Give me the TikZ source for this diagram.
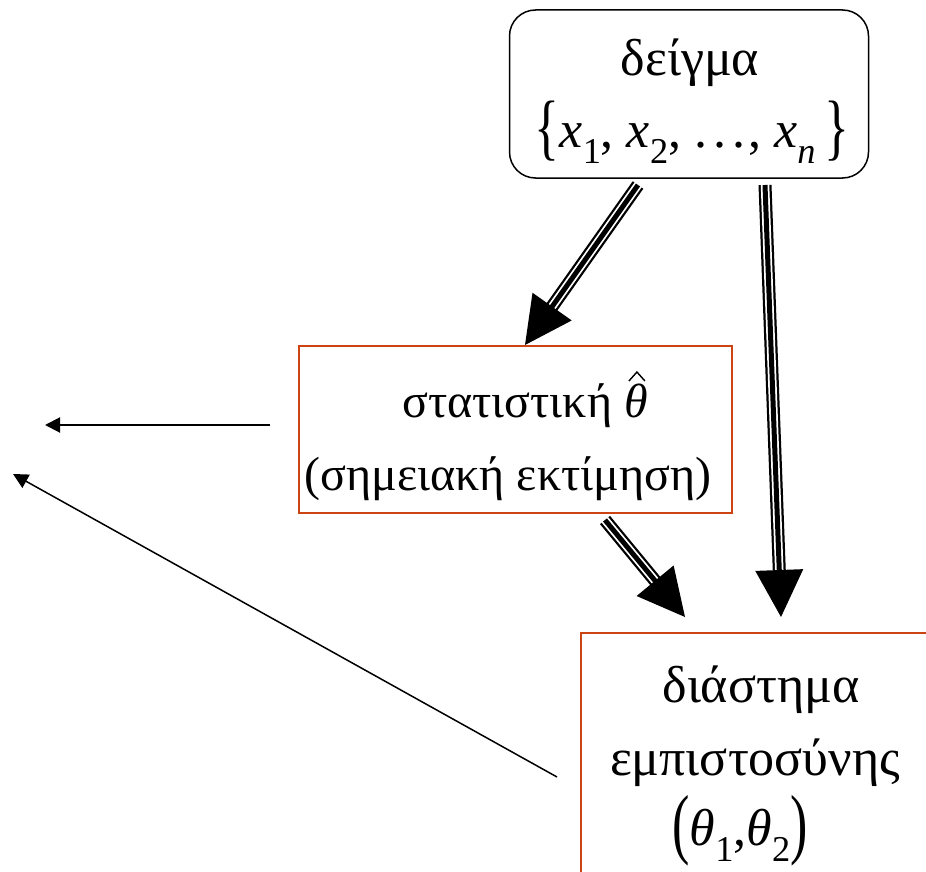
\documentclass[tikz,border=0pt]{standalone}
\usepackage{fontspec}
\setmainfont{Liberation Serif}
\usetikzlibrary{arrows.meta,calc}
\definecolor{boxred}{RGB}{204,68,20}
\newcommand\lsub[1]{\raisebox{-0.32em}{\scalebox{0.7}{#1}}}
\newcommand\triplearrow[2]{%
  \coordinate (tb) at ($(#2)!47pt!(#1)$);
  \coordinate (te) at ($(#2)!45pt!(#1)$);
  \draw[line width=13pt] (#1) -- (te);
  \draw[white,line width=8.5pt] ($(#1)!-1pt!(te)$) -- (te);
  \draw[line width=5pt] (#1) -- (te);
  \fill (#2) -- ($(tb)!24pt!90:(#2)$) -- ($(tb)!24pt!-90:(#2)$) -- cycle;
}
\tikzset{
  txt/.style={font=\fontsize{52}{60}\selectfont, anchor=base, inner sep=0pt},
  smalltxt/.style={txt, font=\fontsize{48}{56}\selectfont},
  redbox/.style={draw=boxred, line width=1.6pt, inner sep=0pt},
  thinarrow/.style={line width=2pt, -{Triangle[length=15pt,width=15pt]}},
  hatline/.style={line width=1.4pt, line join=miter},
}
\begin{document}
\begin{tikzpicture}[x=1pt,y=-1pt]
\useasboundingbox (0,0) rectangle (926,872);
% boxes
\node[draw, line width=1.5pt, rounded corners=26pt, minimum width=359pt, minimum height=168pt, inner sep=0pt] (sample) at (689,94) {};
\node[redbox, minimum width=433pt, minimum height=167pt] (stat) at (515.5,429.5) {};
\begin{scope}
\clip (0,0) rectangle (926,872);
\draw[boxred, line width=1.6pt] (930,633) -- (581,633) -- (581,880);
\end{scope}
\coordinate (ci) at (581,633);
% texts
\node[txt] (t1) at (690,76) {δείγμα};
\node[txt] (t2) at (692,147) {\raisebox{-0.08em}{\scalebox{1}[1.4]{\{}}\textit{x}\lsub{1}, \textit{x}\lsub{2}, .\kern0.12em.\kern0.12em.\kern0.05em, \textit{x}\lsub{\textit{n}}\,\raisebox{-0.08em}{\scalebox{1}[1.4]{\}}}};
\node[smalltxt] (t3) at (525,417) {στατιστική \textit{θ}};
\coordinate (hatc) at ($(t3.base east)+(-11,-45)$);
\draw[hatline] ($(hatc)+(-8,9)$) -- (hatc) -- ($(hatc)+(8,9)$);
\node[smalltxt] (t4) at (508,490) {(σημειακή εκτίμηση)};
\node[txt] (t5) at (761,702) {διάστημα};
\node[txt] (t6) at (755,775) {εμπιστοσύνης};
\node[txt] (t7) at (740,845) {\raisebox{-0.09em}{\scalebox{1}[1.5]{(}}\textit{θ}\lsub{1},\textit{θ}\lsub{2}\raisebox{-0.09em}{\scalebox{1}[1.5]{)}}};
% arrow coordinates
\coordinate (a1s) at (638,185);
\coordinate (a1t) at (525,345);
\coordinate (a2s) at (765,185);
\coordinate (a2t) at (781,617);
\coordinate (a3s) at (605,520);
\coordinate (a3t) at (685,617);
\coordinate (a4s) at (270,425);
\coordinate (a4t) at (45,425);
\coordinate (a5s) at (557,777);
\coordinate (a5t) at (13,474);
\triplearrow{a1s}{a1t}
\triplearrow{a2s}{a2t}
\triplearrow{a3s}{a3t}
\draw[thinarrow] (a4s) -- (a4t);
\draw[thinarrow, line width=1.5pt] (a5s) -- (a5t);
\end{tikzpicture}
\end{document}
